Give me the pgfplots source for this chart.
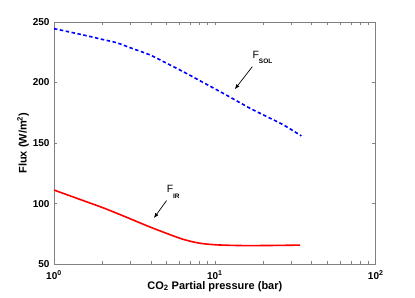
\documentclass[border=0pt]{standalone}
\usepackage{fontspec}
\setmainfont{Liberation Sans}
\usepackage{pgfplots}
\pgfplotsset{compat=1.18}
\usetikzlibrary{arrows.meta}
\begin{document}
\begin{tikzpicture}
\path[use as bounding box] (-54pt,-33.7pt) rectangle (361.3pt,264.3pt);
\begin{axis}[
  at={(0,0)}, anchor=south west,
  scale only axis, width=322pt, height=242.3pt,
  xmode=log, xmin=1, xmax=100, ymin=50, ymax=250,
  xtick={1,10,100},
  xticklabels={10\textsuperscript{0},10\textsuperscript{1},10\textsuperscript{2}},
  minor xtick={2,3,4,5,6,7,8,9,20,30,40,50,60,70,80,90},
  ytick={50,100,150,200,250},
  yticklabels={50,100,150,200,250},
  tick align=inside, tick pos=both,
  major tick length=3.5pt, minor tick length=3pt,
  axis line style={gray, line width=0.8pt},
  tick style={gray, line width=0.6pt},
  tick label style={font=\fontsize{10}{12}\selectfont\bfseries},
  xticklabel style={anchor=base, yshift=-15pt},
  yticklabel style={anchor=east, xshift=-1pt},
  xlabel={CO\textsubscript{2} Partial pressure (bar)},
  ylabel={Flux (W/m\textsuperscript{2})},
  label style={font=\fontsize{11}{13}\selectfont\bfseries},
  xlabel style={at={(axis description cs:0.5,0)}, anchor=base, yshift=-25pt},
  ylabel style={at={(axis description cs:-0.096,0.5)}, anchor=center},
]
\addplot[blue, line width=1.6pt, dash pattern=on 3.5pt off 2.5pt, smooth, tension=0.4] coordinates {
(1,244.5) (1.52,239.3) (2,235.6) (2.45,232.9) (3,228.6) (3.95,222.8)
(5,216.0) (6.35,209.0) (8,201.8) (10.3,193.9) (13,186.5) (16.5,178.8)
(21,171.9) (26.7,165.0) (34.5,155.9)
};
\addplot[red, line width=1.6pt, smooth, tension=0.5] coordinates {
(1,111.2) (1.259,106.4) (1.585,101.6) (1.995,96.8) (2.512,91.5) (3.162,86.0)
(3.981,80.5) (5.012,75.4) (6.31,70.6) (7.94,67.4) (10,66.0) (12.59,65.5)
(15.85,65.3) (22.4,65.4) (33.9,65.7)
};
\node[anchor=base west, inner sep=0pt, font=\fontsize{10.5}{13}\selectfont] at (axis cs:17.1,220) {F\raisebox{-5.5pt}{\fontsize{6.5}{8}\selectfont\bfseries SOL}};
\draw[-{Latex[length=5pt,width=4pt]}, line width=0.7pt] (axis cs:17.1,213.1) -- (axis cs:13.3,194.4);
\node[anchor=base west, inner sep=0pt, font=\fontsize{10.5}{13}\selectfont] at (axis cs:5.01,109.1) {F\raisebox{-5.5pt}{\fontsize{6.5}{8}\selectfont\bfseries IR}};
\draw[-{Latex[length=5pt,width=4pt]}, line width=0.7pt] (axis cs:5.01,102.5) -- (axis cs:4.18,88);
\end{axis}
\end{tikzpicture}
\end{document}
